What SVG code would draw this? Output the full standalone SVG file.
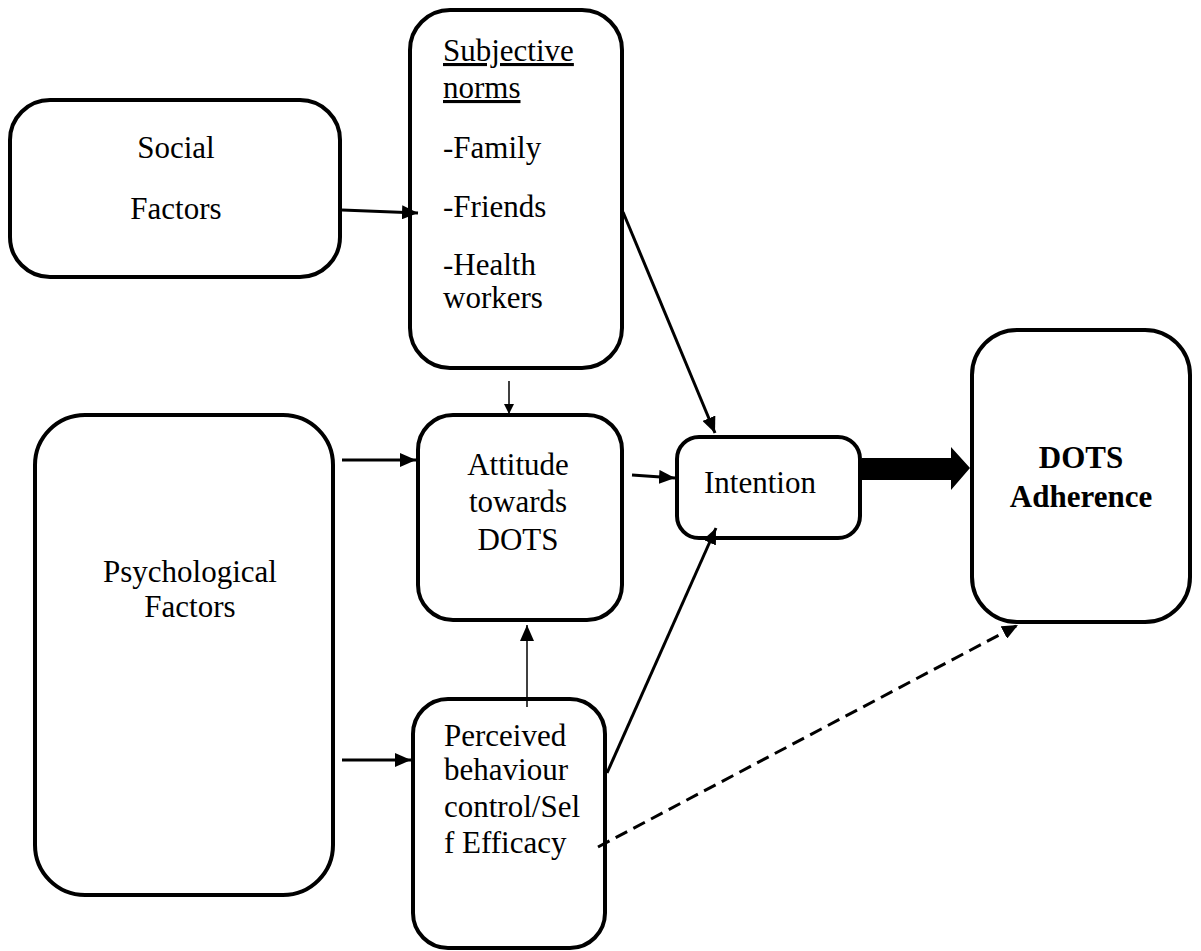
<svg xmlns="http://www.w3.org/2000/svg" width="1201" height="951" viewBox="0 0 1201 951">
<style>
.box{fill:#fff;stroke:#000;stroke-width:4}
.t{font-family:'Times New Roman','Liberation Serif','DejaVu Serif',serif;font-size:31px;fill:#000}
.c{text-anchor:middle}
.b{font-weight:bold}
.ln{stroke:#000;stroke-width:3;fill:none}
.thin{stroke:#000;stroke-width:1.5;fill:none}
</style>
<defs>
<marker id="ah" markerWidth="10" markerHeight="10" refX="9" refY="5" orient="auto" markerUnits="userSpaceOnUse" viewBox="0 0 10 10">
<path d="M0,0 L10,5 L0,10 z" fill="#000"/>
</marker>
<marker id="ah2" markerWidth="16" markerHeight="14" refX="16" refY="7" orient="auto" markerUnits="userSpaceOnUse" viewBox="0 0 16 14">
<path d="M0,0 L16,7 L0,14 z" fill="#000"/>
</marker>
</defs>
<rect width="1201" height="951" fill="#fff"/>
<g id="social">
<rect class="box" x="10" y="100" width="330" height="177" rx="40"/>
<text class="t c" x="176" y="158">Social</text>
<text class="t c" x="176" y="219">Factors</text>
</g>
<g id="subjective">
<rect class="box" x="410" y="10" width="212" height="358" rx="40"/>
<text class="t" x="443" y="61" text-decoration="underline">Subjective</text>
<text class="t" x="443" y="98" text-decoration="underline">norms</text>
<text class="t" x="443" y="158">-Family</text>
<text class="t" x="443" y="217">-Friends</text>
<text class="t" x="443" y="275">-Health</text>
<text class="t" x="443" y="308">workers</text>
</g>
<g id="psych">
<rect class="box" x="35" y="415" width="298" height="480" rx="50"/>
<text class="t c" x="190" y="582">Psychological</text>
<text class="t c" x="190" y="617">Factors</text>
</g>
<g id="attitude">
<rect class="box" x="418" y="415" width="204" height="205" rx="35"/>
<text class="t c" x="518" y="475">Attitude</text>
<text class="t c" x="518" y="512">towards</text>
<text class="t c" x="518" y="550">DOTS</text>
</g>
<g id="perceived">
<rect class="box" x="413" y="699" width="192" height="249" rx="35"/>
<text class="t" x="444" y="746">Perceived</text>
<text class="t" x="444" y="780">behaviour</text>
<text class="t" x="444" y="817">control/Sel</text>
<text class="t" x="444" y="853">f Efficacy</text>
</g>
<g id="intention">
<rect class="box" x="677" y="437" width="183" height="101" rx="22"/>
<text class="t" x="704" y="493">Intention</text>
</g>
<g id="dots">
<rect class="box" x="972" y="330" width="218" height="292" rx="45"/>
<text class="t c b" x="1081" y="468">DOTS</text>
<text class="t c b" x="1081" y="507">Adherence</text>
</g>
<g id="connectors">
<line class="ln" x1="342" y1="210" x2="418" y2="213" marker-end="url(#ah2)"/>
<line class="ln" x1="623" y1="212" x2="715" y2="433" marker-end="url(#ah2)"/>
<line class="thin" x1="509" y1="381" x2="509" y2="413" marker-end="url(#ah)"/>
<line class="ln" x1="342" y1="460" x2="416" y2="460" marker-end="url(#ah2)"/>
<line class="ln" x1="632" y1="475" x2="675" y2="478" marker-end="url(#ah2)"/>
<path d="M862,458 H951 V447 L970,468 L951,490 V480 H862 z" fill="#000"/>
<line class="thin" x1="527" y1="707" x2="527" y2="625" marker-end="url(#ah2)"/>
<line class="ln" x1="342" y1="760" x2="411" y2="760" marker-end="url(#ah2)"/>
<line class="ln" x1="607" y1="773" x2="716" y2="528" marker-end="url(#ah2)"/>
<line class="ln" x1="598" y1="847" x2="1018" y2="625" stroke-width="3.5" stroke-dasharray="13,7" marker-end="url(#ah2)"/>
</g>
</svg>
